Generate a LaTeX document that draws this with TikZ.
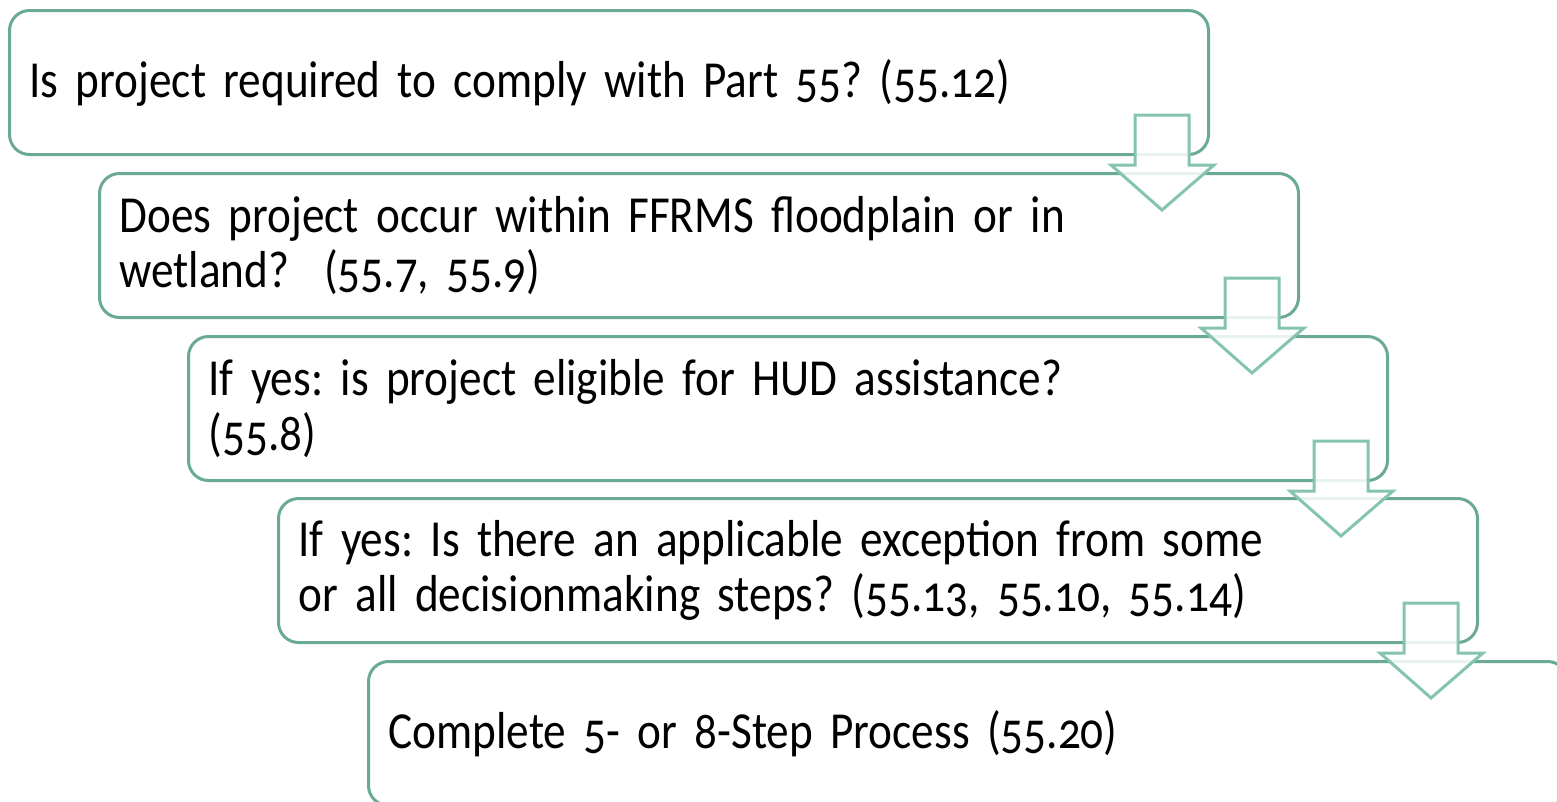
\documentclass[tikz,border=0pt]{standalone}
\usepackage{fontspec}
\setmainfont[Numbers=OldStyle,FakeStretch=0.87]{Carlito}
\frenchspacing
\usetikzlibrary{calc}
\definecolor{boxgreen}{HTML}{6AAA94}
\definecolor{arrowgreen}{HTML}{85C4AE}
\newcommand{\boxfont}{\fontsize{52}{55}\selectfont\frenchspacing}
\tikzset{
  stepbox/.style={draw=boxgreen, line width=3pt, rounded corners=20pt, fill=white,
    anchor=north west, minimum height=144pt, text width=1159pt, inner xsep=20pt,
    align=left, font=\boxfont, text=black},
  downarrow/.style={draw=arrowgreen, line width=3pt, fill=white, fill opacity=0.85, line join=miter}
}
\newcommand{\downarr}[1]{%
  \draw[downarrow] ($(#1.south east)+(-75,-41)$) -- ($(#1.south east)+(-21,-41)$)
    -- ($(#1.south east)+(-21,9)$) -- ($(#1.south east)+(4,9)$)
    -- ($(#1.south east)+(-48,54)$) -- ($(#1.south east)+(-99,9)$)
    -- ($(#1.south east)+(-75,9)$) -- cycle;}
\begin{document}
\begin{tikzpicture}[x=1pt,y=-1pt]
\useasboundingbox (0,0) rectangle (1557,801);
\clip (0,0) rectangle (1557,801);
\node[stepbox] (b1) at (8,9) {Is project required to comply with Part 55? (55.12)};
\node[stepbox] (b2) at (98,172) {Does project occur within FFRMS floodplain or in\\wetland?\ \ (55.7, 55.9)};
\node[stepbox] (b3) at (187,335) {If yes: is project eligible for HUD assistance?\\(55.8)};
\node[stepbox] (b4) at (277,497) {If yes: Is there an applicable exception from some\\or all decisionmaking steps? (55.13, 55.10, 55.14)};
\node[stepbox] (b5) at (367,660) {Complete 5- or 8-Step Process (55.20)};
\downarr{b1}
\downarr{b2}
\downarr{b3}
\downarr{b4}
\end{tikzpicture}
\end{document}
